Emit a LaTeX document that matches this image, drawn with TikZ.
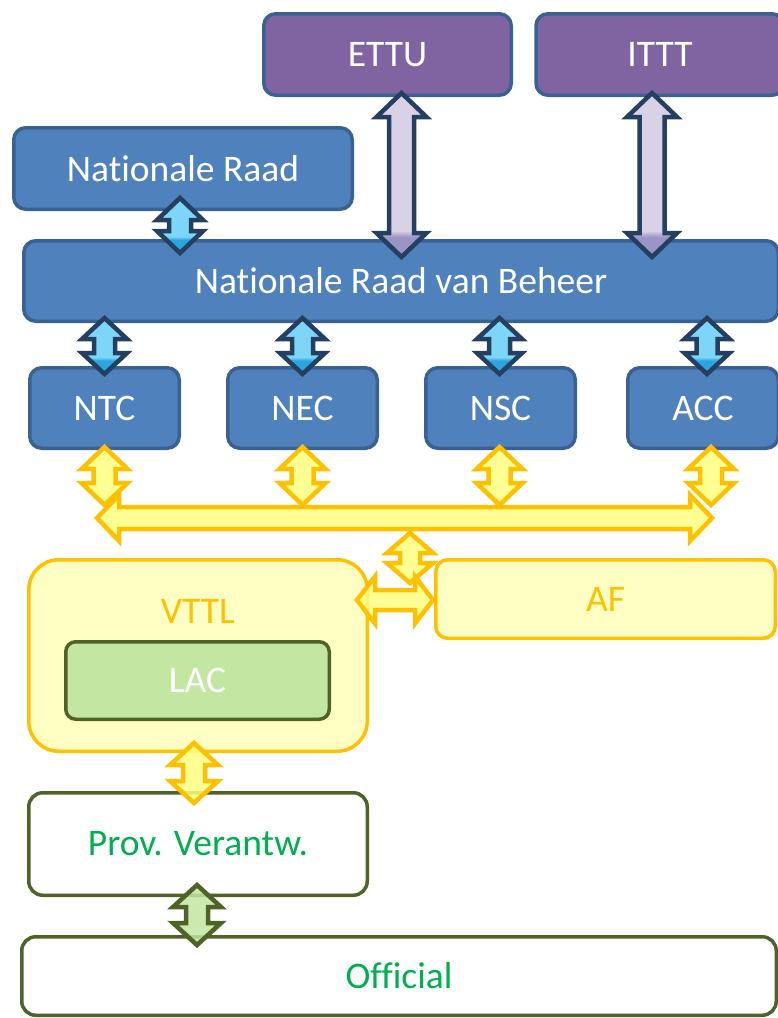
\documentclass[tikz,border=0pt]{standalone}
\usepackage{fontspec}
\setmainfont{Carlito}[Ligatures={NoCommon}]
\usetikzlibrary{calc}
\definecolor{bfill}{HTML}{4F81BD}
\definecolor{bline}{HTML}{3A6191}
\definecolor{pfill}{HTML}{8064A2}
\definecolor{navy}{HTML}{243F60}
\definecolor{arrLight}{HTML}{7DD5F7}
\definecolor{arrMid}{HTML}{2CA5DE}
\definecolor{lavL}{HTML}{D9D1E6}
\definecolor{lavD}{HTML}{9C93C6}
\definecolor{yline}{HTML}{FFC000}
\definecolor{yarr}{HTML}{FFFF80}
\definecolor{yfill}{HTML}{FFFFC4}
\definecolor{gfill}{HTML}{C3E6A2}
\definecolor{gline}{HTML}{4F6228}
\definecolor{gtext}{HTML}{00B050}
\pgfdeclareverticalshading{blueArr}{100bp}{color(0bp)=(arrMid); color(37bp)=(arrMid); color(40bp)=(arrLight); color(100bp)=(arrLight)}
\pgfdeclareverticalshading{lavArr}{100bp}{color(0bp)=(lavD); color(31bp)=(lavD); color(33bp)=(lavL); color(100bp)=(lavL)}
\newcommand\udarr[6]{%
  \path[#1] let \p1=#2, \p2=#3 in (\x1,\y1) -- (\x1+#4pt,\y1-#6pt) -- (\x1+#5pt,\y1-#6pt) -- (\x1+#5pt,\y2+#6pt) -- (\x1+#4pt,\y2+#6pt) -- (\x1,\y2) -- (\x1-#4pt,\y2+#6pt) -- (\x1-#5pt,\y2+#6pt) -- (\x1-#5pt,\y1-#6pt) -- (\x1-#4pt,\y1-#6pt) -- cycle;}
\newcommand\lrarr[6]{%
  \path[#1] let \p1=#2, \p2=#3 in (\x1,\y1) -- (\x1+#6pt,\y1+#4pt) -- (\x1+#6pt,\y1+#5pt) -- (\x2-#6pt,\y1+#5pt) -- (\x2-#6pt,\y1+#4pt) -- (\x2,\y1) -- (\x2-#6pt,\y1-#4pt) -- (\x2-#6pt,\y1-#5pt) -- (\x1+#6pt,\y1-#5pt) -- (\x1+#6pt,\y1-#4pt) -- cycle;}
\tikzset{
  box/.style={rectangle, rounded corners=12pt, line width=3.5pt, draw=bline, fill=bfill, text=white, font=\fontsize{37.5}{42}\selectfont, inner sep=0pt},
  pbox/.style={box, fill=pfill},
  ybox/.style={box, draw=yline, fill=yfill, text=yline},
  gbox/.style={box, draw=gline, fill=gfill, rounded corners=10pt},
  wbox/.style={box, draw=gline, fill=white, text=gtext, rounded corners=14pt},
  arrbase/.style={line width=4.5pt, line join=miter},
  bluearrow/.style={arrbase, draw=navy, shade, shading=blueArr},
  lavarrow/.style={arrbase, draw=navy, shade, shading=lavArr},
  yarrow/.style={arrbase, draw=yline, fill=yarr, fill opacity=0.85},
  garrow/.style={arrbase, draw=gline, fill=gfill, fill opacity=0.85},
}
\begin{document}
\begin{tikzpicture}[x=1pt,y=1pt]
\useasboundingbox (0,0) rectangle (777,-1018);
% boxes
\node[pbox, minimum width=247.5, minimum height=81.5] (ettu) at (387.5,-54.5) {ETTU};
\node[pbox, minimum width=248, minimum height=81.5] (ittt) at (660,-54.5) {ITTT};
\node[box, minimum width=338.5, minimum height=81.5] (nr) at (183,-168.5) {Nationale Raad};
\node[box, minimum width=754.5, minimum height=80.5] (nrvb) at (401,-281) {Nationale Raad van Beheer};
\node[box, minimum width=149.5, minimum height=80.5] (ntc) at (104.5,-408) {NTC};
\node[box, minimum width=149.5, minimum height=80.5] (nec) at (302.5,-408) {NEC};
\node[box, minimum width=149.5, minimum height=80.5] (nsc) at (500.5,-408) {NSC};
\node[box, minimum width=150.5, minimum height=80.5] (acc) at (703,-408) {ACC};
\node[ybox, rounded corners=30pt, minimum width=338.5, minimum height=191.5,
  label={[text=yline, font=\fontsize{37.5}{42}\selectfont, yshift=44pt]center:VTTL}] (vttl) at (198,-655.5) {};
\node[ybox, minimum width=339.5, minimum height=78.5] (af) at (605.5,-599) {AF};
\node[gbox, minimum width=263.5, minimum height=77.5] (lac) at (197.5,-680.5) {LAC};
\node[wbox, minimum width=338.5, minimum height=102.5] (prov) at (198,-844) {Prov. Verantw.};
\node[wbox, minimum width=754.5, minimum height=78.5] (off) at (399,-976) {Official};
% bus coordinates
\coordinate (busl) at (97,-518);
\coordinate (busr) at (712,-518);
% purple arrows
\udarr{lavarrow}{($(ettu.south)+(14,4)$)}{($(nrvb.north)+(0,-18)$)}{25}{12.5}{24}
\udarr{lavarrow}{($(ittt.south)+(-8,4)$)}{($(nrvb.north)+(0,-18)$)}{25}{12.5}{24}
% blue arrows
\udarr{bluearrow}{($(nr.south)+(-3,13)$)}{($(nrvb.north)+(0,-14)$)}{23}{11}{22}
\udarr{bluearrow}{($(nrvb.south -| ntc.north)+(0,5)$)}{($(ntc.north)+(0,-8)$)}{22.5}{10.5}{21}
\udarr{bluearrow}{($(nrvb.south -| nec.north)+(0,5)$)}{($(nec.north)+(0,-8)$)}{22.5}{10.5}{21}
\udarr{bluearrow}{($(nrvb.south -| nsc.north)+(-1,5)$)}{($(nsc.north)+(0,-8)$)}{22.5}{10.5}{21}
\udarr{bluearrow}{($(nrvb.south -| acc.north)+(4,5)$)}{($(acc.north)+(0,-8)$)}{22.5}{10.5}{21}
% yellow bus
\lrarr{yarrow}{(busl)}{(busr)}{23}{11}{22}
\udarr{yarrow}{($(ntc.south)+(0,3)$)}{($(ntc.south|-busl)+(0,13)$)}{23}{11}{22}
\udarr{yarrow}{($(nec.south)+(0,3)$)}{($(nec.south|-busl)+(0,13)$)}{23}{11}{22}
\udarr{yarrow}{($(nsc.south)+(-1,3)$)}{($(nsc.south|-busl)+(0,13)$)}{23}{11}{22}
\udarr{yarrow}{($(acc.south)+(8,3)$)}{($(acc.south|-busl)+(8,13)$)}{23}{11}{22}
\udarr{yarrow}{($(busl)+(313,-15)$)}{($(af.north)+(-195.5,-25)$)}{23}{10}{20}
\lrarr{yarrow}{($(vttl.east)+(-12,55.5)$)}{($(af.west)+(-1,-1)$)}{23.5}{10}{18}
% lower arrows
\udarr{yarrow}{($(vttl.south)+(-4,10)$)}{($(prov.north)+(-4,-12)$)}{24}{11}{22}
\udarr{garrow}{($(prov.south)+(-1,12)$)}{($(off.north)+(0,-10)$)}{24}{11}{22}
\end{tikzpicture}
\end{document}
